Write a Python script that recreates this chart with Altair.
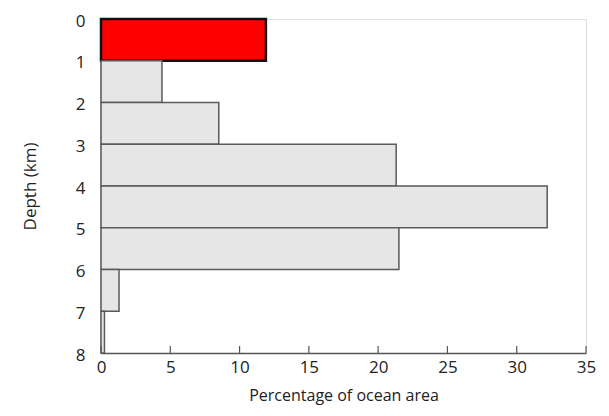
import altair as alt
import pandas as pd

depth_top = [0, 1, 2, 3, 4, 5, 6, 7]
depth_bottom = [1, 2, 3, 4, 5, 6, 7, 8]
percent = [11.9, 4.4, 8.5, 21.3, 32.2, 21.5, 1.3, 0.25]
highlight = ["yes", "no", "no", "no", "no", "no", "no", "no"]
x_ticks = [0, 5, 10, 15, 20, 25, 30, 35]
y_ticks = [0, 1, 2, 3, 4, 5, 6, 7, 8]

df = pd.DataFrame({
    "top": depth_top,
    "bottom": depth_bottom,
    "pct": percent,
    "hl": highlight,
})
ticks_df = pd.DataFrame({"t": x_ticks})

FONT = "Open Sans"

xscale = alt.Scale(domain=[0, 35], nice=False)
yscale = alt.Scale(domain=[0, 8], reverse=True, nice=False)

bars = alt.Chart(df).mark_bar(strokeWidth=1.5).encode(
    x=alt.X("pct:Q", scale=xscale,
            axis=alt.Axis(values=x_ticks, title="Percentage of ocean area",
                          grid=False, ticks=False, domainColor="#555555",
                          domainWidth=1.5, labelFontSize=17, labelColor="#222222",
                          labelFont=FONT, labelPadding=6, labelFlush=False,
                          titleFont=FONT,
                          titleFontSize=16, titleFontWeight="normal",
                          titleColor="#222222", titlePadding=12)),
    x2=alt.value(0),
    y=alt.Y("top:Q", scale=yscale,
            axis=alt.Axis(values=y_ticks, title="Depth (km)", grid=False,
                          ticks=False, domainColor="#555555", domainWidth=1.5,
                          labelFontSize=17, labelColor="#222222", labelFont=FONT,
                          labelPadding=16, labelBaseline="middle", labelOffset=2,
                          labelFlush=False,
                          titleFont=FONT, titleFontSize=17,
                          titleFontWeight="normal", titleColor="#222222",
                          titlePadding=36)),
    y2="bottom:Q",
    color=alt.Color("hl:N", scale=alt.Scale(domain=["yes", "no"],
                                            range=["#ff0000", "#e6e6e6"]),
                    legend=None),
    stroke=alt.Stroke("hl:N", scale=alt.Scale(domain=["yes", "no"],
                                              range=["#111111", "#5a5a5a"]),
                      legend=None),
    strokeWidth=alt.StrokeWidth("hl:N", scale=alt.Scale(domain=["yes", "no"],
                                                        range=[2.5, 1.5]),
                                legend=None),
)

tick_marks = alt.Chart(ticks_df).mark_rule(color="#555555", strokeWidth=1.2).encode(
    x=alt.X("t:Q", scale=xscale),
    y=alt.value(334),
    y2=alt.value(327),
)

chart = alt.layer(bars, tick_marks).properties(
    width=485,
    height=334,
    padding={"left": 93, "top": 11, "right": 13, "bottom": 55},
    autosize=alt.AutoSizeParams(type="none"),
).configure_view(stroke=None).configure(background="white")

chart.save("out.html", embed_options={"renderer": "svg", "actions": False})
